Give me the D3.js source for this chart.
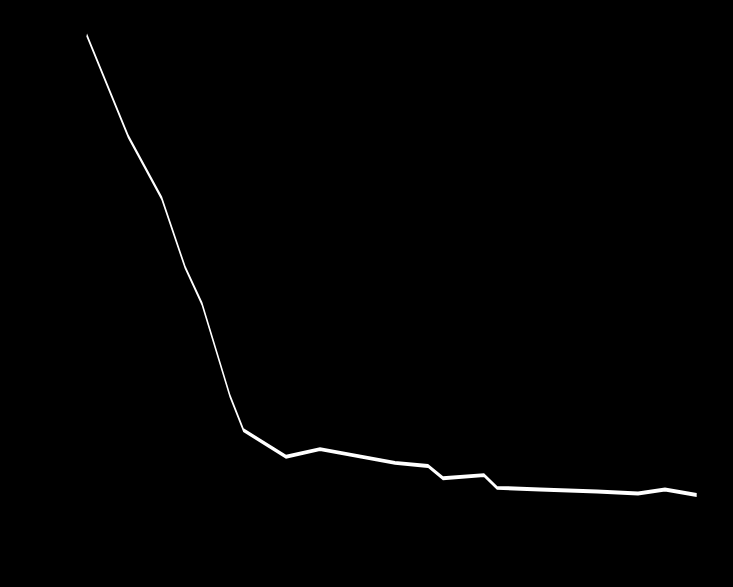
<!DOCTYPE html>
<html>
<head>
<meta charset="utf-8">
<script src="https://cdn.jsdelivr.net/npm/d3@7"></script>
<style>
  html, body { margin: 0; padding: 0; background: #000; }
  svg { display: block; }
</style>
</head>
<body>
<script>
// Data (x position along series, y value)
const xValues = [0, 41.6, 75, 98.3, 115.3, 143.3, 156.8, 199.3, 233.3, 308.3, 341.3, 356.3, 397.3, 410.3, 453.3, 510.3, 551.3, 578.3, 610];
const yValues = [100, 80.1, 68.0, 54.5, 47.3, 29.2, 22.5, 17.3, 18.8, 16.1, 15.5, 13.1, 13.7, 11.2, 10.9, 10.5, 10.1, 10.9, 9.8];

const width = 733, height = 587;
const margin = { left: 86.7, right: 36.3, top: 35, bottom: 42 };
const stretch = 3.3; // vertical stretch of the plot layer

const svg = d3.select("body").append("svg")
  .attr("width", width).attr("height", height)
  .style("background", "#000");

svg.append("rect").attr("width", width).attr("height", height).attr("fill", "#000");

const x = d3.scaleLinear().domain([0, 610]).range([margin.left, width - margin.right]);
const y = d3.scaleLinear().domain([0, 100]).range([(height - margin.bottom) / stretch, margin.top / stretch]);

const data = xValues.map((v, i) => ({ x: v, y: yValues[i] }));

const line = d3.line().x(d => x(d.x)).y(d => y(d.y));

svg.append("g")
  .attr("transform", `scale(1,${stretch})`)
  .append("path")
  .datum(data)
  .attr("fill", "none")
  .attr("stroke", "#fff")
  .attr("stroke-width", 1.2)
  .attr("stroke-linejoin", "miter")
  .attr("d", line);
</script>
</body>
</html>
